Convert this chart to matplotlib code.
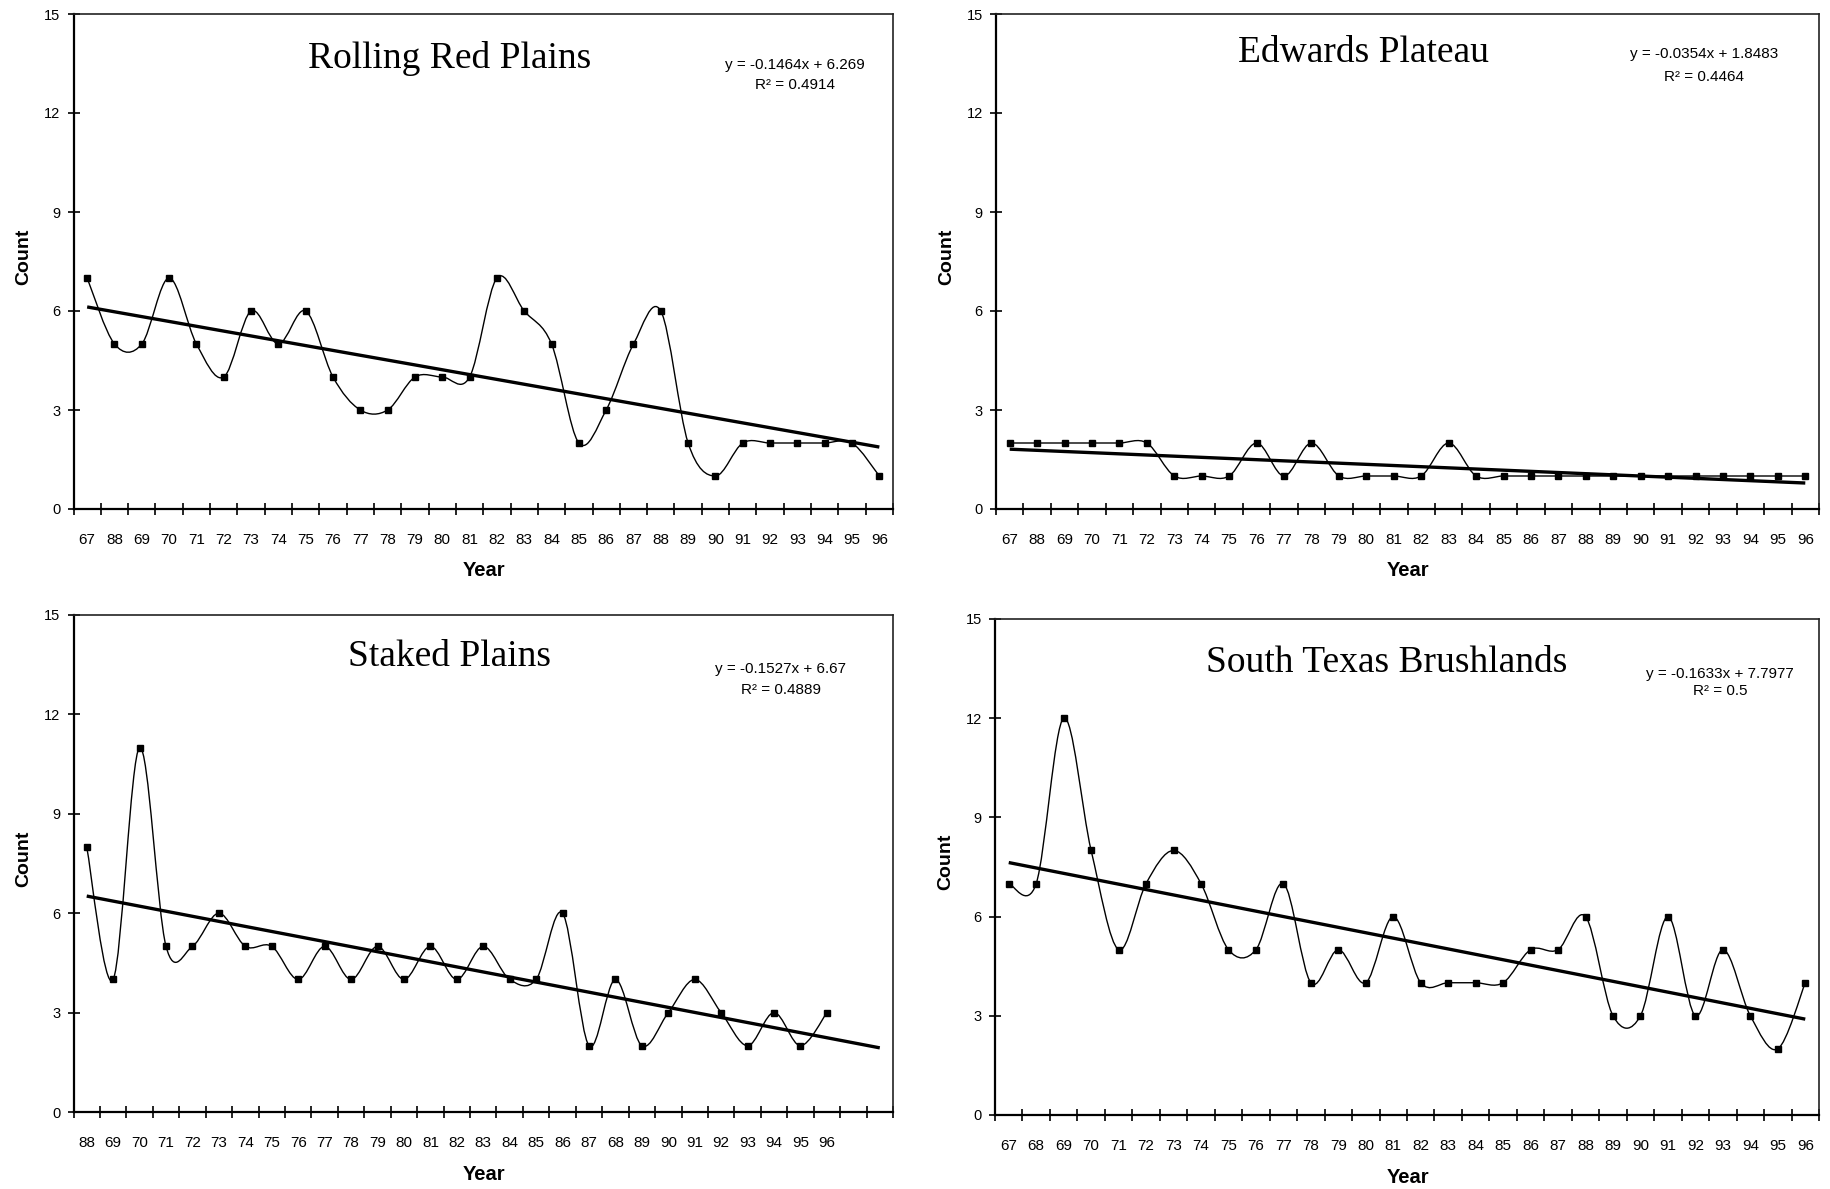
import numpy as np
import matplotlib
matplotlib.use("Agg")
import matplotlib.pyplot as plt
from matplotlib.path import Path
from matplotlib.patches import PathPatch

# ---------------- data ----------------
labels_67_96 = ["67", "88", "69", "70", "71", "72", "73", "74", "75", "76", "77", "78", "79", "80", "81",
                "82", "83", "84", "85", "86", "87", "88", "89", "90", "91", "92", "93", "94", "95", "96"]
labels_68_96 = ["88", "69", "70", "71", "72", "73", "74", "75", "76", "77", "78", "79", "80", "81", "82",
                "83", "84", "85", "86", "87", "68", "89", "90", "91", "92", "93", "94", "95", "96", "", ""]
labels_stb = ["67", "68", "69", "70", "71", "72", "73", "74", "75", "76", "77", "78", "79", "80", "81",
              "82", "83", "84", "85", "86", "87", "88", "89", "90", "91", "92", "93", "94", "95", "96"]

rolling_red = [7, 5, 5, 7, 5, 4, 6, 5, 6, 4, 3, 3, 4, 4, 4, 7, 6, 5, 2, 3, 5, 6, 2, 1, 2, 2, 2, 2, 2, 1]
edwards = [2, 2, 2, 2, 2, 2, 1, 1, 1, 2, 1, 2, 1, 1, 1, 1, 2, 1, 1, 1, 1, 1, 1, 1, 1, 1, 1, 1, 1, 1]
staked = [8, 4, 11, 5, 5, 6, 5, 5, 4, 5, 4, 5, 4, 5, 4, 5, 4, 4, 6, 2, 4, 2, 3, 4, 3, 2, 3, 2, 3]
south_texas = [7, 7, 12, 8, 5, 7, 8, 7, 5, 5, 7, 4, 5, 4, 6, 4, 4, 4, 4, 5, 5, 6, 3, 3, 6, 3, 5, 3, 2, 4]

titles = ["Rolling Red Plains", "Edwards Plateau", "Staked Plains", "South Texas Brushlands"]
equations = ["y = -0.1464x + 6.269", "y = -0.0354x + 1.8483", "y = -0.1527x + 6.67", "y = -0.1633x + 7.7977"]
r_squared = ["R² = 0.4914", "R² = 0.4464", "R² = 0.4889", "R² = 0.5"]
yticks = [0, 3, 6, 9, 12, 15]

# ---------------- layout (figure pixels) ----------------
W, H = 1831, 1189
fig = plt.figure(figsize=(W / 100, H / 100), dpi=100)

boxes = [(73.5, 893, 14, 509), (996, 1819, 14, 509),
         (73.5, 893, 615, 1112), (995, 1819, 619, 1115)]
title_pos = [(0.459, 0.911), (0.447, 0.922), (0.459, 0.915), (0.475, 0.911)]
eq_pos = [(0.880, 0.896, 0.856), (0.860, 0.920, 0.873), (0.863, 0.891, 0.849), (0.880, 0.889, 0.855)]

panels = [(rolling_red, labels_67_96, 0), (edwards, labels_67_96, 0),
          (staked, labels_68_96, 2), (south_texas, labels_stb, 0)]

sans = ["Liberation Sans", "DejaVu Sans"]
serif = ["Liberation Serif", "DejaVu Serif"]


def smooth_path(x, y):
    # Excel-style smoothed line: cubic Bezier segments with Catmull-Rom tangents
    pts = np.column_stack([x, y]).astype(float)
    n = len(pts)
    verts = [pts[0]]
    codes = [Path.MOVETO]
    for i in range(n - 1):
        p0 = pts[i - 1] if i > 0 else pts[i]
        p1 = pts[i]
        p2 = pts[i + 1]
        p3 = pts[i + 2] if i + 2 < n else pts[i + 1]
        c1 = p1 + (p2 - p0) / 6.0
        c2 = p2 - (p3 - p1) / 6.0
        verts += [c1, c2, p2]
        codes += [Path.CURVE4] * 3
    return Path(verts, codes)


for k, (vals, labs, fwd) in enumerate(panels):
    l, r, t, b = boxes[k]
    ax = fig.add_axes([l / W, 1 - b / H, (r - l) / W, (b - t) / H])
    ncat = len(labs)
    x = np.arange(len(vals))
    y = np.array(vals, dtype=float)

    # smoothed data line
    ax.add_patch(PathPatch(smooth_path(x, y), facecolor="none", edgecolor="black", lw=1.0, zorder=3))
    ax.plot(x, y, linestyle="none", marker="s", markersize=4.8, color="black", zorder=4)

    # linear trend
    xs = np.arange(1, len(vals) + 1)
    a, c = np.polyfit(xs, y, 1)
    xt = np.array([1, len(vals) + fwd])
    ax.plot(xt - 1, a * xt + c, color="black", lw=2.4, zorder=2, solid_capstyle="butt")

    ax.set_xlim(-0.5, ncat - 0.5)
    ax.set_ylim(0, 15)

    # category axis: ticks between categories, labels at centres
    ax.set_xticks(np.arange(ncat + 1) - 0.5)
    ax.set_xticklabels([])
    ax.set_xticks(np.arange(ncat), minor=True)
    ax.set_xticklabels(labs, minor=True, fontfamily=sans, fontsize=11)
    ax.tick_params(axis="x", which="major", direction="inout", length=9, width=1.2, color="black")
    ax.tick_params(axis="x", which="minor", length=0, pad=17)

    ax.set_yticks(yticks)
    ax.set_yticklabels([str(v) for v in yticks], fontfamily=sans, fontsize=10.5)
    ax.tick_params(axis="y", direction="inout", length=9, width=1.2, pad=5)

    for s in ["left", "bottom"]:
        ax.spines[s].set_linewidth(1.6)
        ax.spines[s].set_color("black")
    for s in ["top", "right"]:
        ax.spines[s].set_linewidth(1.2)
        ax.spines[s].set_color("#222222")

    ax.set_ylabel("Count", fontfamily=sans, fontweight="bold", fontsize=14)
    ax.yaxis.set_label_coords(-0.050, 0.51)
    ax.set_xlabel("Year", fontfamily=sans, fontweight="bold", fontsize=14.5)
    ax.xaxis.set_label_coords(0.501, -0.106)

    tx, ty = title_pos[k]
    ax.text(tx, ty, titles[k], transform=ax.transAxes, ha="center", va="center",
            fontfamily=serif, fontsize=27)
    ex, ey1, ey2 = eq_pos[k]
    ax.text(ex, ey1, equations[k], transform=ax.transAxes, ha="center", va="center",
            fontfamily=sans, fontsize=11)
    ax.text(ex, ey2, r_squared[k], transform=ax.transAxes, ha="center", va="center",
            fontfamily=sans, fontsize=11)

fig.savefig("out.png", dpi=100, facecolor="white")
